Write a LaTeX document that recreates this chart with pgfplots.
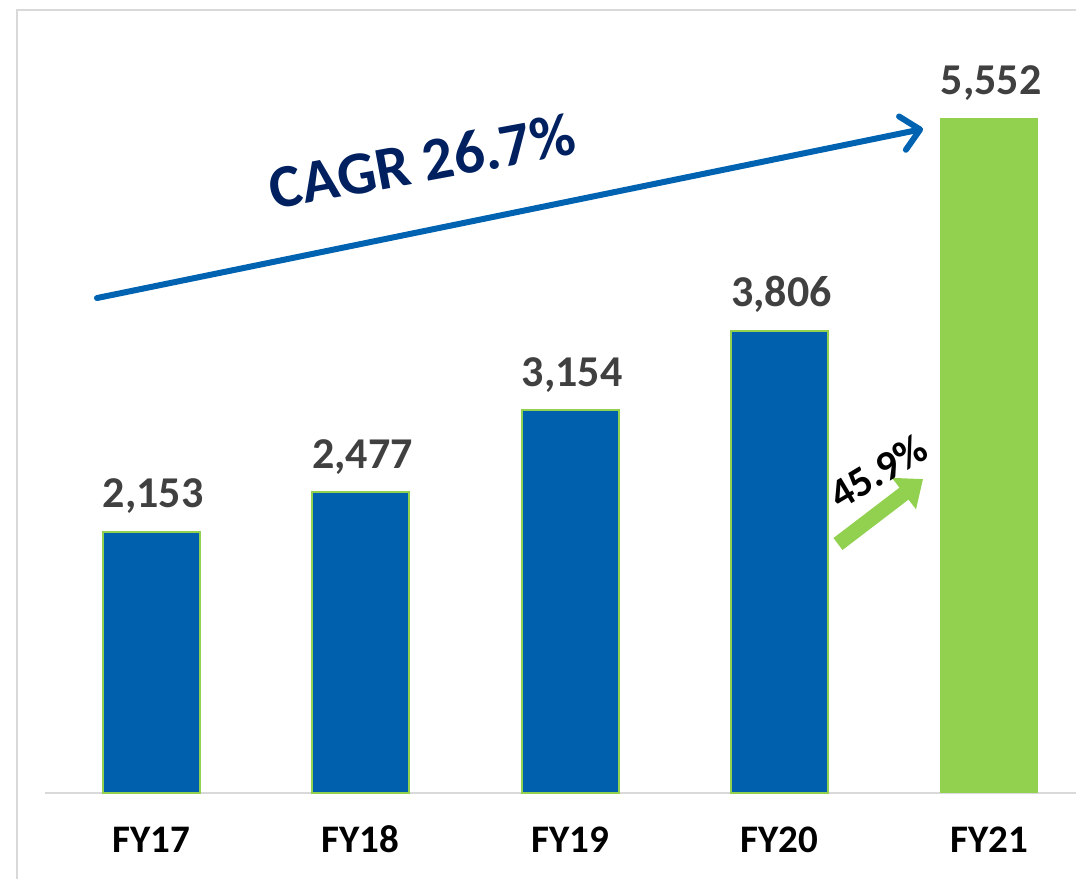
\documentclass[border=0pt]{standalone}
\usepackage{pgfplots}
\pgfplotsset{compat=1.18}
\usepackage{fontspec}
\setmainfont{Carlito}
\usetikzlibrary{arrows.meta}
\definecolor{barblue}{RGB}{0,96,173}
\definecolor{bargreen}{RGB}{146,208,80}
\definecolor{lblgray}{RGB}{64,64,64}
\definecolor{navy}{RGB}{0,32,96}
\definecolor{arrowblue}{RGB}{0,99,177}
\definecolor{bordergray}{RGB}{217,217,217}
\begin{document}
\begin{tikzpicture}
\useasboundingbox (0,0) rectangle (538pt,439pt);
\draw[bordergray, line width=1.2pt] (8.5pt,-2pt) -- (8.5pt,434pt) -- (540pt,434pt);
\begin{axis}[
  at={(22.5pt,42.5pt)}, anchor=south west,
  scale only axis, width=515.5pt, height=396.5pt,
  xmin=-0.506, xmax=4.415, ymin=0, ymax=6532,
  axis x line=bottom, axis y line=none,
  x axis line style={bordergray, line width=1.4pt, -},
  xtick={0,1,2,3,4}, xticklabels={FY17,FY18,FY19,FY20,FY21},
  ytick=\empty,
  major tick length=0pt,
  xticklabel style={font=\bfseries\fontsize{19.5pt}{20pt}\selectfont, anchor=base, yshift=-30pt},
  ybar, bar width=48.5pt, bar shift=0pt,
  clip=false,
  nodes near coords,
  /pgf/number format/.cd, 1000 sep={,}, assume math mode=true, /pgfplots/.cd,
  every node near coord/.append style={font=\bfseries\fontsize{22pt}{24pt}\selectfont, text=lblgray, anchor=base, yshift=12pt, xshift=1pt},
]
\addplot[fill=barblue, draw=bargreen, line width=1pt] coordinates {(0,2153) (1,2477) (2,3154) (3,3806)};
\addplot[fill=bargreen, draw=bargreen, line width=0.5pt] coordinates {(4,5552)};
\draw[arrowblue, line width=3pt, line cap=round, -{Straight Barb[length=9pt, width=17pt, round]}]
  (axis cs:-0.258,4077) -- (axis cs:3.685,5470);
\node[rotate=10.5, text=navy, font=\bfseries\fontsize{30.5pt}{31pt}\selectfont] at (axis cs:1.294,5205) {CAGR 26.7\%};
\draw[bargreen, line width=7.5pt, -{Triangle[length=12pt, width=19pt]}]
  (axis cs:3.279,2051) -- (axis cs:3.685,2586);
\node[rotate=31, text=black, font=\bfseries\fontsize{21pt}{22pt}\selectfont] at (axis cs:3.470,2650) {45.9\%};
\end{axis}
\end{tikzpicture}
\end{document}
